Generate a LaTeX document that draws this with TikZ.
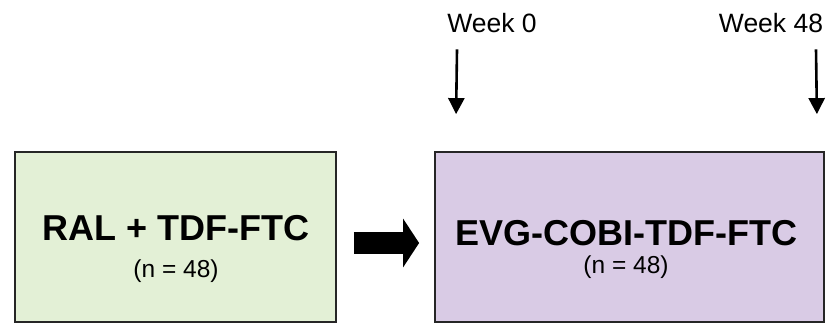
\documentclass[tikz,border=0pt]{standalone}
\usepackage{fontspec}
\setmainfont{Liberation Sans}
\usetikzlibrary{arrows.meta}
\usetikzlibrary{positioning}
\definecolor{ralgreen}{RGB}{227,240,214}
\definecolor{evgpurple}{RGB}{217,203,229}
\tikzstyle{armbox} = [rectangle, draw=black!85, line width=1.8pt, inner sep=0pt, minimum height=170pt]
\tikzstyle{armtitle} = [font=\fontsize{36}{40}\selectfont\bfseries, inner sep=0pt, anchor=base]
\tikzstyle{armcount} = [font=\fontsize{24.5}{28}\selectfont, inner sep=0pt, anchor=base]
\tikzstyle{week} = [font=\fontsize{26.5}{30}\selectfont, inner sep=0pt, anchor=base]
\tikzstyle{tick} = [line width=2.6pt, -{Triangle[length=16pt,width=16pt]}]
\tikzstyle{switch} = [line width=22pt, -{Triangle[length=16pt,width=48pt]}]

\begin{document}
\begin{tikzpicture}[x=1pt,y=-1pt]
\useasboundingbox (0,0) rectangle (826,324);

\node (ral) [armbox, fill=ralgreen, minimum width=321pt] at (175.5,237) {};
\node (evg) [armbox, fill=evgpurple, minimum width=389pt] at (629.5,237) {};

\node (raltitle) [armtitle] at (176,240) {RAL + TDF-FTC};
\node (ralcount) [armcount] at (176,277) {(n = 48)};
\node (evgtitle) [armtitle] at (626,245) {EVG-COBI-TDF-FTC};
\node (evgcount) [armcount] at (626,273) {(n = 48)};

\draw [switch] ([shift={(17,6)}]ral.east) -- ([shift={(-15,6)}]evg.west);

\node (week0) [week] at (492,32) {Week 0};
\node (week48) [week] at (771,32) {Week 48};
\draw [tick] ([shift={(-35,17)}]week0.south) -- ([shift={(22,-37)}]evg.north west);
\draw [tick] ([shift={(45,17)}]week48.south) -- ([shift={(-8,-37)}]evg.north east);
\end{tikzpicture}
\end{document}
